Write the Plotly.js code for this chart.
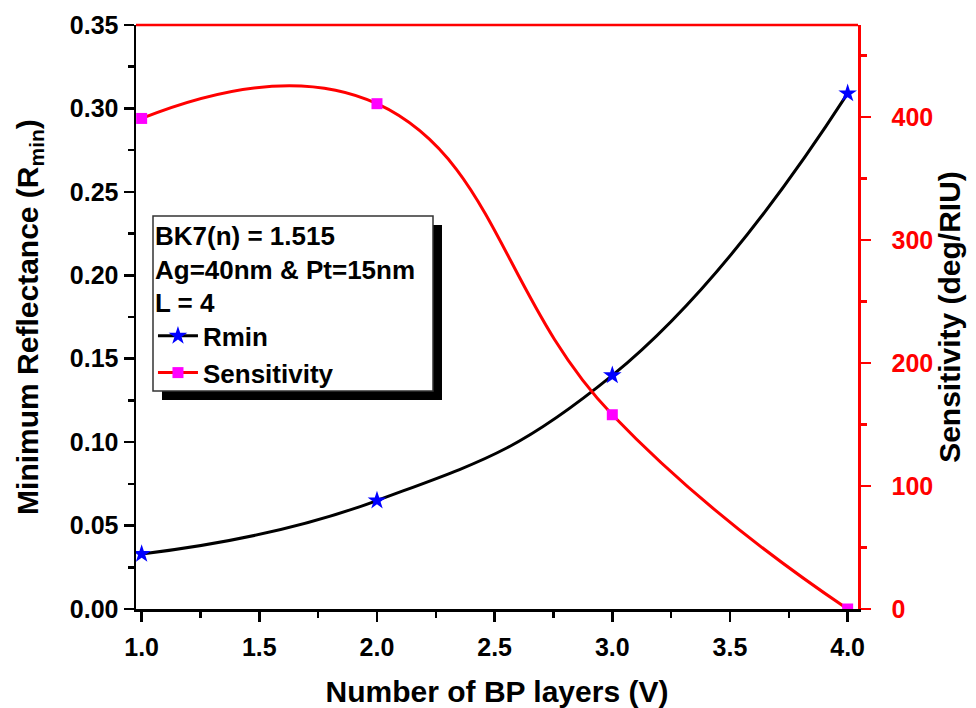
<!DOCTYPE html>
<html><head><meta charset="utf-8">
<script src="https://cdn.plot.ly/plotly-3.0.1.min.js"></script>
<style>html,body{margin:0;padding:0;background:#fff}</style>
</head><body><div id="chart" style="width:976px;height:708px"></div>
<script>
// Data
const bpLayers = [1, 2, 3, 4];
const rminValues = [0.033, 0.065, 0.140, 0.309];
const sensitivityValues = [399, 411, 158, 0];
const legendNotes = ["BK7(n) = 1.515", "Ag=40nm &amp; Pt=15nm", "L = 4"];
const xTitle = "Number of BP layers (V)";
const yTitle = "Minimum Reflectance (R<sub>min</sub>)";
const y2Title = "Sensitivity (deg/RIU)";

const FONT = "Liberation Sans, Arial, sans-serif";
const bold = (size, color) => ({family: FONT, size: size, weight: "bold", color: color || "#000"});

const traces = [
  {
    x: bpLayers, y: rminValues, name: "Rmin", type: "scatter", mode: "lines+markers",
    line: {color: "#000", width: 3, shape: "spline", smoothing: 1.3},
    marker: {symbol: "star", size: 14, color: "#0000ff"}
  },
  {
    x: bpLayers, y: sensitivityValues, name: "Sensitivity", type: "scatter", mode: "lines+markers",
    yaxis: "y2",
    line: {color: "#ff0000", width: 3, shape: "spline", smoothing: 1.3},
    marker: {symbol: "square", size: 11, color: "#ff00ff"}
  }
];

const axisCommon = {
  showgrid: false, zeroline: false, showline: true, linewidth: 2.5,
  ticks: "outside", ticklen: 10, tickwidth: 2.5
};

const layout = {
  width: 976, height: 708,
  margin: {l: 136, r: 118, t: 25, b: 99},
  paper_bgcolor: "#fff", plot_bgcolor: "#fff",
  showlegend: true,
  xaxis: Object.assign({}, axisCommon, {
    range: [0.976, 4.044], tick0: 1, dtick: 0.5, tickformat: ".1f",
    linecolor: "#000", tickcolor: "#000",
    minor: {ticks: "outside", dtick: 0.25, tick0: 1, ticklen: 6, tickwidth: 2.5, tickcolor: "#000"},
    tickfont: bold(25), ticklabelstandoff: 4,
    title: {text: xTitle, font: bold(30), standoff: 22}
  }),
  yaxis: Object.assign({}, axisCommon, {
    range: [0, 0.35], tick0: 0, dtick: 0.05, tickformat: ".2f",
    linecolor: "#000", tickcolor: "#000",
    minor: {ticks: "outside", dtick: 0.025, ticklen: 6, tickwidth: 2.5, tickcolor: "#000"},
    tickfont: bold(25),
    title: {text: yTitle, font: bold(30), standoff: 23}
  }),
  yaxis2: Object.assign({}, axisCommon, {
    overlaying: "y", side: "right", anchor: "x",
    range: [0, 475], tick0: 0, dtick: 100,
    linecolor: "#ff0000", tickcolor: "#ff0000",
    minor: {ticks: "outside", dtick: 50, ticklen: 6, tickwidth: 2.5, tickcolor: "#ff0000"},
    tickfont: bold(25, "#ff0000"), ticklabelstandoff: 16,
    title: {text: y2Title, font: bold(30), standoff: 0}
  }),
  legend: {
    x: 0.0235, y: 0.6815, xanchor: "left", yanchor: "top",
    bgcolor: "rgba(0,0,0,0)", borderwidth: 0,
    font: bold(26), itemwidth: 40, tracegroupgap: 0,
    title: {text: legendNotes.join("<br>"), font: bold(26), side: "top"}
  },
  shapes: [
    {type: "line", xref: "paper", yref: "paper", x0: 0, x1: 1, y0: 1, y1: 1,
     line: {color: "#ff0000", width: 2.5}},
    {type: "rect", xref: "paper", yref: "paper", x0: 0.03601, x1: 0.42382, y0: 0.35788, y1: 0.65753,
     fillcolor: "#000", line: {width: 0}, layer: "above"},
    {type: "rect", xref: "paper", yref: "paper", x0: 0.02355, x1: 0.41136, y0: 0.37329, y1: 0.67295,
     fillcolor: "#fff", line: {color: "#333", width: 1.5}, layer: "above"}
  ]
};

Plotly.newPlot("chart", traces, layout, {displayModeBar: false, staticPlot: true});
</script>
</body></html>
